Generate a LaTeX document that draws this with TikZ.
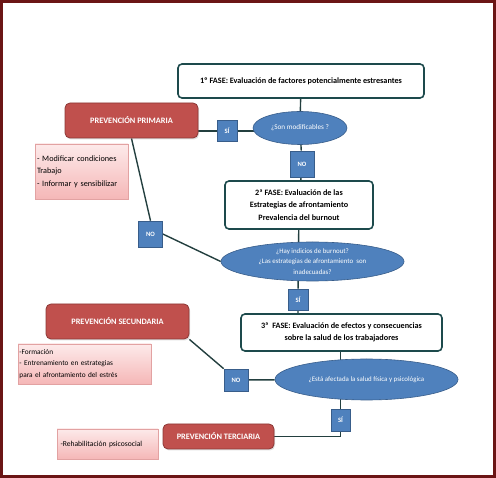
\documentclass[tikz,border=0pt]{standalone}
\usepackage{fontspec}
\setmainfont{Carlito}
\usepackage{tikz}
\usetikzlibrary{shapes,shapes.geometric,positioning,calc,backgrounds,shadows}
\definecolor{DarkTeal}{HTML}{1D4A4C}
\definecolor{BoxBlue}{HTML}{4F81BD}
\definecolor{EdgeBlue}{HTML}{385D8A}
\definecolor{BoxRed}{HTML}{C0504D}
\definecolor{EdgeRed}{HTML}{8C3836}
\definecolor{PinkTop}{HTML}{FDEAEA}
\definecolor{PinkBot}{HTML}{F5B7B7}
\definecolor{PinkEdge}{HTML}{E2A2A2}
\definecolor{FrameRed}{HTML}{6B1515}
\definecolor{LineDark}{HTML}{233F3F}

\begin{document}
\begin{tikzpicture}[x=1pt,y=-1pt,
  fase/.style={rectangle,rounded corners=4pt,draw=DarkTeal,line width=1.6pt,fill=white,
               align=center,inner sep=0pt,font=\fontsize{8.2}{12.6}\selectfont\bfseries},
  pregunta/.style={ellipse,fill=BoxBlue,draw=EdgeBlue,line width=0.6pt,text=white,
               align=center,inner sep=0pt,font=\fontsize{6.9}{10.3}\selectfont},
  resp/.style={rectangle,fill=BoxBlue,draw=EdgeBlue,line width=0.6pt,text=white,
               inner sep=0pt,font=\fontsize{6.6}{7}\selectfont\bfseries},
  prev/.style={rectangle,rounded corners=5pt,fill=BoxRed,draw=EdgeRed,line width=0.8pt,
               text=white,inner sep=0pt,font=\fontsize{8.3}{9}\selectfont\bfseries,
               drop shadow={opacity=0.25,shadow xshift=1pt,shadow yshift=-1.5pt}},
  lista/.style={rectangle,top color=PinkTop,bottom color=PinkBot,draw=PinkEdge,line width=0.4pt,
               align=left,inner sep=0pt,font=\fontsize{8.2}{12.5}\selectfont,
               drop shadow={opacity=0.25,shadow xshift=1pt,shadow yshift=-1.5pt}},
  conn/.style={draw=LineDark,line width=1.4pt}
]
\useasboundingbox (0,0) rectangle (496,478);
\draw[FrameRed,line width=3pt] (1.5,1.5) rectangle (494.5,476.5);

% fases
\node[fase,minimum width=246pt,minimum height=34pt] (f1) at (301,81)
  {1º FASE: Evaluación de factores potencialmente estresantes};
\node[fase,minimum width=148pt,minimum height=48pt] (f2) at (299,205)
  {2ª FASE: Evaluación de las\\Estrategias de afrontamiento\\Prevalencia del burnout};
\node[fase,minimum width=201pt,minimum height=37pt,font=\fontsize{8.2}{12}\selectfont\bfseries] (f3) at (341.5,332.5)
  {3ª~ FASE: Evaluación de efectos y consecuencias\\sobre la salud de los trabajadores};

% preguntas
\node[pregunta,minimum width=94pt,minimum height=33pt,font=\fontsize{7.2}{8}\selectfont] (q1) at (300,128) {¿Son modificables ?};
\node[pregunta,minimum width=183pt,minimum height=39pt] (q2) at (312.5,261.5)
  {¿Hay indicios de burnout?\\¿Las estrategias de afrontamiento~ son\\inadecuadas?};
\node[pregunta,minimum width=183pt,minimum height=41pt] (q3) at (366.5,379.5)
  {¿Está afectada la salud física y psicológica};

% respuestas
\node[resp,minimum width=20pt,minimum height=21pt] (si1) at (227,131) {SÍ};
\node[resp,minimum width=24pt,minimum height=26pt] (no1) at (302,164) {NO};
\node[resp,minimum width=24pt,minimum height=26pt] (no2) at (150.5,234) {NO};
\node[resp,minimum width=20pt,minimum height=21pt] (si2) at (298,299.5) {SÍ};
\node[resp,minimum width=24pt,minimum height=22pt] (no3) at (236,380) {NO};
\node[resp,minimum width=19pt,minimum height=22pt] (si3) at (340.5,420) {SÍ};

% prevencion
\node[prev,minimum width=133pt,minimum height=35pt] (prim) at (131.5,120.5) {PREVENCIÓN PRIMARIA};
\node[prev,minimum width=143pt,minimum height=35pt] (sec) at (117.5,321.5) {PREVENCIÓN SECUNDARIA};
\node[prev,minimum width=111pt,minimum height=25pt] (terc) at (218.5,436.5) {PREVENCIÓN TERCIARIA};

% listas
\node[lista,minimum width=93pt,minimum height=55pt,text width=89pt] (l1) at (81.5,171.5)
  {- Modificar condiciones\\Trabajo\\- Informar y sensibilizar};
\node[lista,minimum width=133pt,minimum height=40pt,text width=130pt,font=\fontsize{7.3}{11.7}\selectfont] (l2) at (84.5,364)
  {-Formación\\- Entrenamiento en estrategias\\para el afrontamiento del estrés};
\node[lista,minimum width=101pt,minimum height=30pt,text width=94pt,font=\fontsize{7.6}{8}\selectfont] (l3) at (107.5,444)
  {-Rehabilitación psicosocial};

\begin{scope}[on background layer]
\draw[conn] (f1) -- (q1);
\draw[conn] (q1) -- (no1) -- (f2);
\draw[conn] (prim.east |- si1) -- (si1) -- (q1.center |- si1);
\draw[conn] (prim.south) -- (no2.north);
\draw[conn] (no2.east) -- (q2.west);
\draw[conn] (f2) -- (si2) -- (si2 |- f3.north);
\draw[conn] (sec.south east) -- (no3.north west);
\draw[conn] (no3) -- (q3);
\draw[conn] (f3.south -| si3) -- (si3) |- (terc);
\end{scope}
\end{tikzpicture}
\end{document}
